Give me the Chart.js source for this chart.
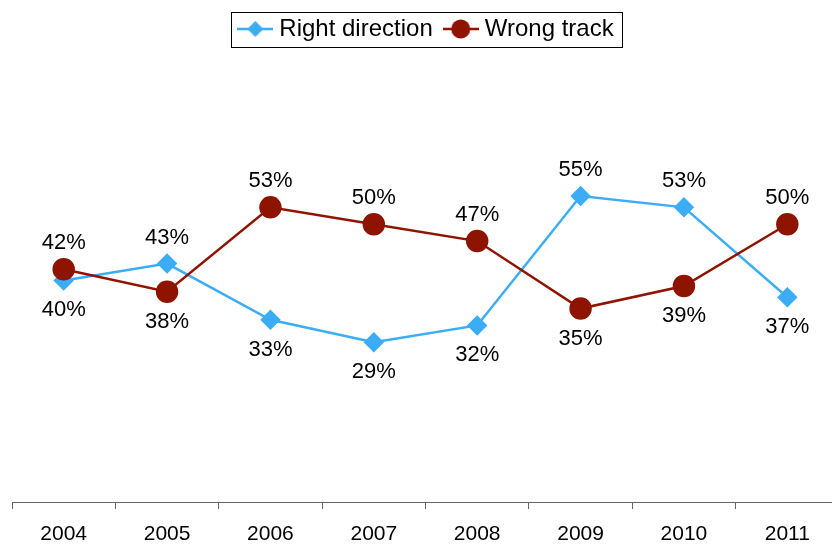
<!DOCTYPE html>
<html>
<head>
<meta charset="utf-8">
<script src="https://cdn.jsdelivr.net/npm/chart.js@4"></script>
<style>
  html, body { margin: 0; padding: 0; background: #fff; overflow: hidden; }
  canvas { display: block; }
</style>
</head>
<body>
<!-- the axis in the original runs past the right edge, so the canvas is a bit wider than the window -->
<canvas id="chart" width="839" height="544"></canvas>
<script>
const years = ["2004", "2005", "2006", "2007", "2008", "2009", "2010", "2011"];
const rightDirection = [40, 43, 33, 29, 32, 55, 53, 37];
const wrongTrack = [42, 38, 53, 50, 47, 35, 39, 50];
// where each value label sits relative to its point
const rightLabelPos = ["below", "above", "below", "below", "below", "above", "above", "below"];
const wrongLabelPos = ["above", "below", "above", "above", "above", "below", "below", "above"];

const blue = "#3BADF6";
const red = "#8E1400";
const font = "'Liberation Sans', Arial, sans-serif";

function legendIcon(color, style) {
    const c = document.createElement("canvas");
    c.width = 36;
    c.height = 20;
    const g = c.getContext("2d");
    g.strokeStyle = color;
    g.lineWidth = 2.5;
    g.beginPath();
    g.moveTo(0, 10);
    g.lineTo(36, 10);
    g.stroke();
    g.fillStyle = color;
    g.beginPath();
    if (style === "diamond") {
        g.moveTo(18, 2); g.lineTo(26, 10); g.lineTo(18, 18); g.lineTo(10, 10);
    } else {
        g.arc(18, 10, 9.5, 0, Math.PI * 2);
    }
    g.closePath();
    g.fill();
    return c;
}

const valueLabels = {
    id: "valueLabels",
    afterDatasetsDraw(chart) {
        const ctx = chart.ctx;
        ctx.save();
        ctx.font = "22px " + font;
        ctx.fillStyle = "#000";
        ctx.textAlign = "center";
        ctx.textBaseline = "middle";
        chart.data.datasets.forEach((ds, i) => {
            const meta = chart.getDatasetMeta(i);
            meta.data.forEach((pt, j) => {
                const dy = ds.labelPos[j] === "above" ? -26 : 30;
                ctx.fillText(ds.data[j] + "%", pt.x, pt.y + dy);
            });
        });
        ctx.restore();
    }
};

// nudge the legend a little right and put a frame round it
const legendBox = {
    id: "legendBox",
    afterLayout(chart) {
        chart.legend.left += 3;
        chart.legend.right += 3;
    },
    afterDraw(chart) {
        const boxes = chart.legend.legendHitBoxes;
        if (!boxes || !boxes.length) return;
        const left = Math.min(...boxes.map(b => b.left)) - 12;
        const right = Math.max(...boxes.map(b => b.left + b.width)) + 9;
        const top = Math.min(...boxes.map(b => b.top)) - 5;
        const bottom = Math.max(...boxes.map(b => b.top + b.height)) + 6;
        const ctx = chart.ctx;
        ctx.save();
        ctx.strokeStyle = "#000";
        ctx.lineWidth = 1;
        ctx.strokeRect(Math.round(left) + 0.5, Math.round(top) + 0.5, Math.round(right - left), Math.round(bottom - top));
        ctx.restore();
    }
};

new Chart(document.getElementById("chart"), {
    type: "line",
    data: {
        labels: years,
        datasets: [
            {
                label: "Right direction",
                data: rightDirection,
                labelPos: rightLabelPos,
                borderColor: blue,
                backgroundColor: blue,
                borderWidth: 2.5,
                pointStyle: "rectRot",
                pointRadius: 8.5,
                pointHoverRadius: 8.5,
                order: 1
            },
            {
                label: "Wrong track",
                data: wrongTrack,
                labelPos: wrongLabelPos,
                borderColor: red,
                backgroundColor: red,
                borderWidth: 2.5,
                pointStyle: "circle",
                pointRadius: 10,
                pointHoverRadius: 10,
                order: 0
            }
        ]
    },
    options: {
        responsive: false,
        animation: false,
        layout: { autoPadding: false, padding: { left: 12, right: 0, top: 1, bottom: 0 } },
        plugins: {
            tooltip: { enabled: false },
            legend: {
                position: "top",
                labels: {
                    color: "#000",
                    font: { family: font, size: 24 },
                    usePointStyle: true,
                    pointStyleWidth: 24,
                    padding: 16,
                    generateLabels: () => [
                        { text: "Right direction", pointStyle: legendIcon(blue, "diamond"), datasetIndex: 0, fontColor: "#000" },
                        { text: "Wrong track", pointStyle: legendIcon(red, "circle"), datasetIndex: 1, fontColor: "#000" }
                    ]
                }
            }
        },
        scales: {
            x: {
                offset: true,
                afterFit: (scale) => { scale.height = 42; },
                grid: {
                    offset: true,
                    drawOnChartArea: false,
                    drawTicks: true,
                    tickLength: 7,
                    color: "#666"
                },
                border: { display: true, color: "#666", width: 1 },
                ticks: {
                    color: "#000",
                    font: { family: font, size: 21, lineHeight: 1 },
                    padding: 14.5,
                    maxRotation: 0
                }
            },
            y: {
                display: false,
                min: 0.6,
                max: 80.8
            }
        }
    },
    plugins: [valueLabels, legendBox]
});
</script>
</body>
</html>
